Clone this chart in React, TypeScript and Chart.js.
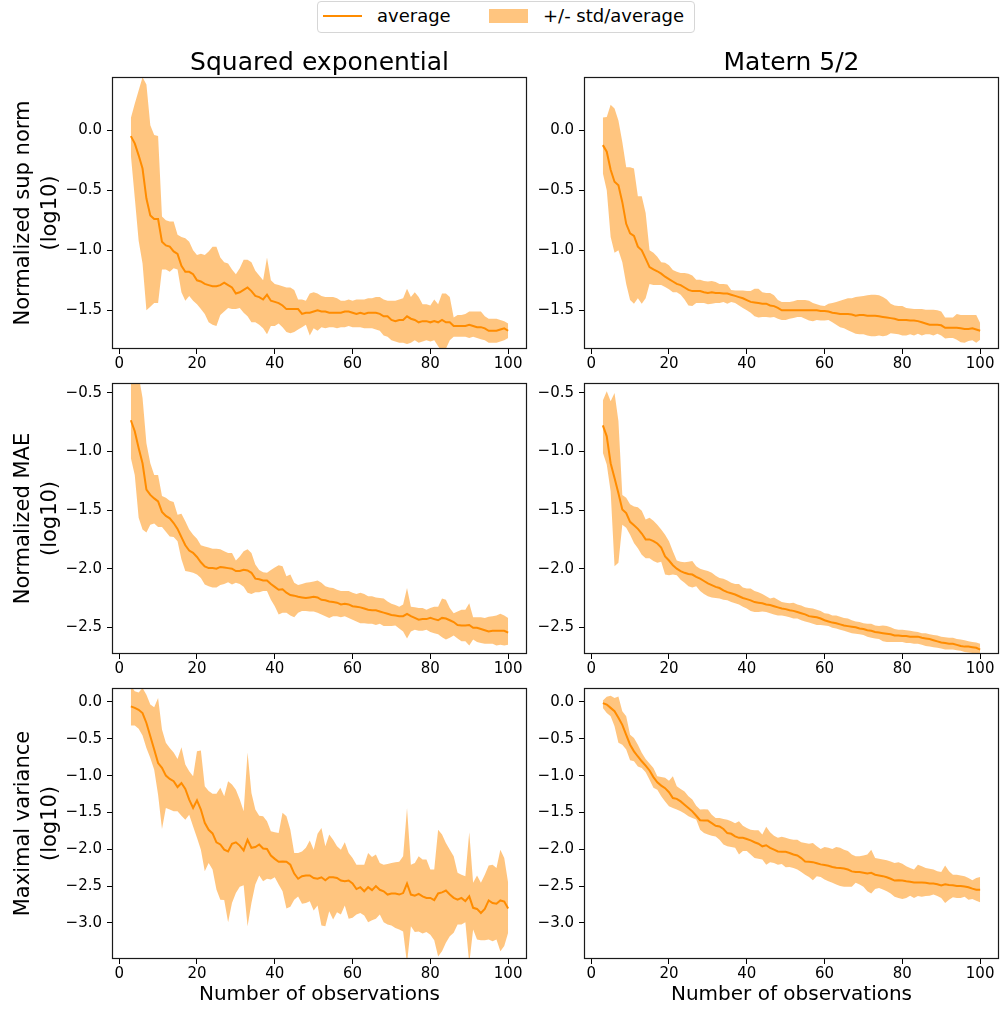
import React, { useEffect, useRef } from 'react';
import { Chart, registerables } from 'chart.js';

Chart.register(...registerables);

const FONT = "'DejaVu Sans', 'Liberation Sans', sans-serif";
const LINE_COLOR = '#ff8c00';
const BAND_COLOR = 'rgba(255, 140, 0, 0.5)';
const TEXT_COLOR = '#000000';

Chart.defaults.font.family = FONT;
Chart.defaults.color = TEXT_COLOR;

// ---- labels -------------------------------------------------------------
const KERNELS = ['Squared exponential', 'Matern 5/2'];
const METRICS = [
  ['Normalized sup norm', '(log10)'],
  ['Normalized MAE', '(log10)'],
  ['Maximal variance', '(log10)'],
];
const X_TITLE = 'Number of observations';
const LINE_LABEL = 'average';
const BAND_LABEL = '+/- std/average';

// ---- axes ---------------------------------------------------------------
const X_TICKS = [0, 20, 40, 60, 80, 100];
const X_LIMITS = [-1.85, 104.85];
const SUP_TICKS = [0, -0.5, -1, -1.5];
const MAE_TICKS = [-0.5, -1, -1.5, -2, -2.5];
const VAR_TICKS = [0, -0.5, -1, -1.5, -2, -2.5, -3];
const SUP_LIMITS = [-1.822, 0.442];
const MAE_LIMITS = [-2.728, -0.415];
const VAR_LIMITS = [-3.49, 0.19];

// ---- data: number of observations ---------------------------------------
const OBS = [
  3, 4, 5, 6, 7, 8, 9, 10, 11, 12,
  13, 14, 15, 16, 17, 18, 19, 20, 21, 22,
  23, 24, 25, 26, 27, 28, 29, 30, 31, 32,
  33, 34, 35, 36, 37, 38, 39, 40, 41, 42,
  43, 44, 45, 46, 47, 48, 49, 50, 51, 52,
  53, 54, 55, 56, 57, 58, 59, 60, 61, 62,
  63, 64, 65, 66, 67, 68, 69, 70, 71, 72,
  73, 74, 75, 76, 77, 78, 79, 80, 81, 82,
  83, 84, 85, 86, 87, 88, 89, 90, 91, 92,
  93, 94, 95, 96, 97, 98, 99, 100,
];

// ---- Squared exponential: normalized sup norm ---------------------------
const SE_SUP_MEAN = [
  -0.05, -0.11, -0.21, -0.32, -0.57, -0.71, -0.74, -0.74, -0.93, -0.96,
  -0.97, -1.01, -1.03, -1.13, -1.18, -1.18, -1.2, -1.25, -1.26, -1.28,
  -1.29, -1.3, -1.3, -1.29, -1.27, -1.29, -1.31, -1.36, -1.35, -1.33,
  -1.31, -1.34, -1.38, -1.39, -1.41, -1.37, -1.42, -1.43, -1.44, -1.46,
  -1.49, -1.49, -1.49, -1.49, -1.53, -1.52, -1.52, -1.51, -1.5, -1.51,
  -1.51, -1.52, -1.52, -1.52, -1.52, -1.51, -1.51, -1.52, -1.53, -1.52,
  -1.53, -1.52, -1.52, -1.52, -1.53, -1.55, -1.55, -1.58, -1.59, -1.58,
  -1.58, -1.55, -1.57, -1.58, -1.6, -1.59, -1.59, -1.6, -1.59, -1.6,
  -1.58, -1.6, -1.6, -1.63, -1.63, -1.63, -1.63, -1.62, -1.63, -1.64,
  -1.64, -1.65, -1.67, -1.67, -1.67, -1.66, -1.65, -1.67,
];
const SE_SUP_HI = [
  0.1, 0.22, 0.33, 0.44, 0.38, 0.04, -0.04, -0.05, -0.72, -0.75,
  -0.76, -0.76, -0.87, -0.89, -0.9, -0.93, -1.0, -1.04, -1.03, -1.04,
  -1.01, -0.97, -0.97, -1.06, -1.1, -1.11, -1.16, -1.2, -1.15, -1.08,
  -1.08, -1.1, -1.17, -1.21, -1.25, -1.06, -1.25, -1.28, -1.29, -1.3,
  -1.31, -1.31, -1.33, -1.41, -1.41, -1.42, -1.36, -1.35, -1.36, -1.38,
  -1.39, -1.39, -1.39, -1.4, -1.42, -1.42, -1.41, -1.42, -1.41, -1.41,
  -1.41, -1.4, -1.4, -1.39, -1.39, -1.41, -1.42, -1.42, -1.42, -1.41,
  -1.4, -1.32, -1.39, -1.35, -1.39, -1.45, -1.45, -1.46, -1.41, -1.45,
  -1.36, -1.36, -1.39, -1.56, -1.54, -1.54, -1.53, -1.51, -1.51, -1.51,
  -1.51, -1.55, -1.57, -1.57, -1.57, -1.58, -1.59, -1.61,
];
const SE_SUP_LO = [
  -0.21, -0.56, -0.92, -1.11, -1.5, -1.47, -1.44, -1.44, -1.16, -1.16,
  -1.18, -1.15, -1.16, -1.35, -1.42, -1.38, -1.42, -1.45, -1.49, -1.53,
  -1.6, -1.62, -1.63, -1.54, -1.51, -1.48, -1.49, -1.49, -1.48, -1.52,
  -1.55, -1.6, -1.6, -1.62, -1.65, -1.7, -1.63, -1.63, -1.61, -1.64,
  -1.68, -1.69, -1.68, -1.66, -1.64, -1.62, -1.71, -1.65, -1.67, -1.64,
  -1.65, -1.64, -1.64, -1.65, -1.64, -1.64, -1.63, -1.64, -1.64, -1.64,
  -1.65, -1.65, -1.65, -1.66, -1.67, -1.71, -1.72, -1.75, -1.76, -1.77,
  -1.77, -1.78, -1.77, -1.75, -1.77, -1.76, -1.75, -1.76, -1.75, -1.8,
  -1.84, -1.82, -1.75, -1.72, -1.72, -1.72, -1.72, -1.73, -1.72, -1.73,
  -1.74, -1.75, -1.77, -1.77, -1.77, -1.76, -1.75, -1.73,
];

// ---- Matern 5/2: normalized sup norm ------------------------------------
const M52_SUP_MEAN = [
  -0.125, -0.18, -0.33, -0.43, -0.46, -0.6, -0.78, -0.86, -0.88, -0.97,
  -1.0, -1.07, -1.14, -1.16, -1.175, -1.195, -1.22, -1.24, -1.26, -1.28,
  -1.29, -1.31, -1.33, -1.34, -1.34, -1.34, -1.35, -1.355, -1.35, -1.355,
  -1.355, -1.36, -1.36, -1.37, -1.38, -1.39, -1.4, -1.415, -1.43, -1.435,
  -1.44, -1.445, -1.445, -1.46, -1.465, -1.48, -1.5, -1.5, -1.5, -1.5,
  -1.5, -1.5, -1.5, -1.5, -1.5, -1.5, -1.505, -1.505, -1.51, -1.52,
  -1.525, -1.53, -1.53, -1.53, -1.535, -1.545, -1.54, -1.54, -1.545, -1.545,
  -1.545, -1.55, -1.555, -1.56, -1.565, -1.57, -1.58, -1.58, -1.58, -1.585,
  -1.585, -1.59, -1.6, -1.61, -1.62, -1.62, -1.62, -1.625, -1.645, -1.645,
  -1.645, -1.645, -1.65, -1.655, -1.655, -1.65, -1.66, -1.67,
];
const M52_SUP_HI = [
  0.105, 0.11, 0.21, 0.18, 0.08, -0.1, -0.31, -0.31, -0.32, -0.55,
  -0.55, -0.69, -1.0, -1.02, -1.055, -1.1, -1.105, -1.125, -1.165, -1.18,
  -1.19, -1.19, -1.195, -1.21, -1.245, -1.245, -1.255, -1.26, -1.255, -1.265,
  -1.28, -1.28, -1.285, -1.33, -1.335, -1.335, -1.335, -1.34, -1.34, -1.32,
  -1.32, -1.35, -1.355, -1.355, -1.375, -1.415, -1.43, -1.43, -1.43, -1.425,
  -1.415, -1.415, -1.415, -1.42, -1.44, -1.45, -1.46, -1.465, -1.445, -1.44,
  -1.43, -1.42, -1.41, -1.4, -1.4, -1.39, -1.385, -1.38, -1.375, -1.37,
  -1.37, -1.375, -1.39, -1.41, -1.445, -1.46, -1.465, -1.465, -1.48, -1.485,
  -1.49, -1.49, -1.49, -1.495, -1.495, -1.495, -1.5, -1.51, -1.56, -1.56,
  -1.56, -1.53, -1.54, -1.54, -1.54, -1.54, -1.54, -1.605,
];
const M52_SUP_LO = [
  -0.36, -0.5, -0.89, -1.02, -1.0, -1.1, -1.28, -1.415, -1.445, -1.4,
  -1.445, -1.4, -1.28, -1.29, -1.29, -1.29, -1.305, -1.325, -1.35, -1.35,
  -1.37, -1.41, -1.46, -1.465, -1.44, -1.44, -1.44, -1.45, -1.445, -1.44,
  -1.44, -1.43, -1.445, -1.43, -1.44, -1.46, -1.48, -1.5, -1.52, -1.55,
  -1.56, -1.555, -1.555, -1.56, -1.555, -1.57, -1.58, -1.58, -1.57, -1.565,
  -1.555, -1.555, -1.57, -1.585, -1.59, -1.58, -1.585, -1.585, -1.58, -1.6,
  -1.62, -1.64, -1.65, -1.665, -1.68, -1.695, -1.7, -1.7, -1.71, -1.715,
  -1.715, -1.71, -1.715, -1.71, -1.69, -1.695, -1.7, -1.71, -1.71, -1.7,
  -1.71, -1.695, -1.71, -1.7, -1.7, -1.71, -1.695, -1.71, -1.735, -1.73,
  -1.73, -1.745, -1.765, -1.77, -1.755, -1.75, -1.77, -1.745,
];

// ---- Squared exponential: normalized MAE --------------------------------
const SE_MAE_MEAN = [
  -0.733, -0.827, -0.97, -1.1, -1.325, -1.37, -1.4, -1.425, -1.515, -1.55,
  -1.57, -1.61, -1.66, -1.73, -1.8, -1.845, -1.865, -1.9, -1.945, -1.98,
  -1.995, -1.995, -2.0, -1.985, -1.99, -1.995, -2.0, -2.02, -2.02, -2.01,
  -2.015, -2.035, -2.085, -2.09, -2.1, -2.1, -2.13, -2.155, -2.18, -2.175,
  -2.205, -2.225, -2.23, -2.24, -2.245, -2.25, -2.245, -2.24, -2.245, -2.265,
  -2.27, -2.28, -2.285, -2.29, -2.305, -2.3, -2.305, -2.32, -2.325, -2.33,
  -2.34, -2.35, -2.355, -2.355, -2.365, -2.375, -2.385, -2.395, -2.4, -2.405,
  -2.405, -2.385, -2.405, -2.42, -2.435, -2.43, -2.43, -2.42, -2.43, -2.44,
  -2.42, -2.425, -2.44, -2.455, -2.48, -2.485, -2.485, -2.48, -2.505, -2.505,
  -2.515, -2.525, -2.535, -2.53, -2.53, -2.53, -2.53, -2.545,
];
const SE_MAE_HI = [
  -0.3, -0.3, -0.35, -0.54, -0.93, -1.1, -1.2, -1.2, -1.38, -1.395,
  -1.42, -1.43, -1.54, -1.53, -1.595, -1.665, -1.71, -1.745, -1.8, -1.81,
  -1.82, -1.83, -1.83, -1.835, -1.85, -1.865, -1.865, -1.93, -1.895, -1.85,
  -1.835, -1.865, -1.965, -2.01, -2.03, -2.035, -2.01, -1.99, -1.97, -1.98,
  -2.065, -2.05, -2.12, -2.14, -2.13, -2.12, -2.115, -2.11, -2.1, -2.12,
  -2.15, -2.16, -2.165, -2.18, -2.19, -2.19, -2.19, -2.205, -2.215, -2.205,
  -2.215, -2.235, -2.235, -2.245, -2.25, -2.255, -2.28, -2.3, -2.31, -2.325,
  -2.305, -2.165, -2.325, -2.33, -2.335, -2.335, -2.35, -2.335, -2.325, -2.325,
  -2.255, -2.265, -2.335, -2.38, -2.365, -2.35, -2.35, -2.295, -2.415, -2.415,
  -2.415, -2.42, -2.41, -2.405, -2.4, -2.385, -2.4, -2.42,
];
const SE_MAE_LO = [
  -1.055, -1.2, -1.565, -1.665, -1.69, -1.625, -1.615, -1.645, -1.645, -1.685,
  -1.725, -1.73, -1.765, -1.92, -2.02, -2.025, -2.035, -2.05, -2.08, -2.135,
  -2.15, -2.16, -2.16, -2.14, -2.13, -2.115, -2.135, -2.12, -2.13, -2.155,
  -2.205, -2.215, -2.2, -2.2, -2.19, -2.19, -2.265, -2.32, -2.39, -2.375,
  -2.375, -2.4, -2.415, -2.375, -2.36, -2.36, -2.365, -2.365, -2.375, -2.39,
  -2.405, -2.42, -2.405, -2.405, -2.415, -2.405, -2.42, -2.435, -2.45, -2.465,
  -2.465, -2.47, -2.47, -2.48, -2.47, -2.49, -2.49, -2.49, -2.485, -2.51,
  -2.535, -2.595, -2.535, -2.52, -2.53, -2.53, -2.52, -2.54, -2.55, -2.56,
  -2.585, -2.605, -2.59, -2.57, -2.595, -2.62, -2.62, -2.655, -2.605, -2.625,
  -2.635, -2.64, -2.64, -2.64, -2.655, -2.65, -2.655, -2.65,
];

// ---- Matern 5/2: normalized MAE -----------------------------------------
const M52_MAE_MEAN = [
  -0.776, -0.87, -1.1, -1.225, -1.355, -1.495, -1.525, -1.6, -1.63, -1.66,
  -1.7, -1.75, -1.75, -1.765, -1.785, -1.82, -1.895, -1.93, -1.97, -2.0,
  -2.02, -2.035, -2.045, -2.05, -2.07, -2.085, -2.105, -2.125, -2.14, -2.155,
  -2.165, -2.185, -2.2, -2.21, -2.22, -2.235, -2.25, -2.26, -2.27, -2.285,
  -2.29, -2.295, -2.305, -2.31, -2.32, -2.33, -2.34, -2.345, -2.355, -2.36,
  -2.37, -2.38, -2.39, -2.405, -2.41, -2.415, -2.425, -2.44, -2.45, -2.46,
  -2.465, -2.475, -2.485, -2.49, -2.495, -2.5, -2.51, -2.515, -2.525, -2.53,
  -2.54, -2.545, -2.55, -2.555, -2.56, -2.57, -2.57, -2.575, -2.575, -2.58,
  -2.58, -2.58, -2.59, -2.595, -2.6, -2.61, -2.62, -2.63, -2.635, -2.64,
  -2.64, -2.65, -2.66, -2.665, -2.665, -2.67, -2.675, -2.69,
];
const M52_MAE_HI = [
  -0.565, -0.485, -0.57, -0.5, -0.74, -1.37, -1.395, -1.45, -1.47, -1.475,
  -1.505, -1.58, -1.565, -1.59, -1.625, -1.665, -1.71, -1.765, -1.85, -1.93,
  -1.94, -1.945, -1.94, -1.935, -1.98, -2.0, -2.01, -2.02, -2.035, -2.06,
  -2.08, -2.085, -2.1, -2.12, -2.13, -2.13, -2.16, -2.17, -2.17, -2.19,
  -2.2, -2.215, -2.235, -2.255, -2.245, -2.265, -2.285, -2.29, -2.295, -2.29,
  -2.305, -2.315, -2.33, -2.335, -2.34, -2.35, -2.36, -2.38, -2.385, -2.4,
  -2.4, -2.41, -2.42, -2.425, -2.44, -2.45, -2.455, -2.465, -2.47, -2.47,
  -2.485, -2.49, -2.485, -2.49, -2.5, -2.515, -2.52, -2.52, -2.525, -2.53,
  -2.535, -2.54, -2.55, -2.55, -2.56, -2.565, -2.57, -2.58, -2.585, -2.59,
  -2.59, -2.6, -2.605, -2.61, -2.62, -2.625, -2.63, -2.64,
];
const M52_MAE_LO = [
  -1.01, -1.11, -1.34, -1.98, -1.95, -1.625, -1.65, -1.71, -1.78, -1.825,
  -1.88, -1.91, -1.91, -1.935, -1.95, -1.94, -2.05, -2.055, -2.05, -2.055,
  -2.095, -2.12, -2.15, -2.16, -2.15, -2.19, -2.215, -2.235, -2.245, -2.25,
  -2.255, -2.265, -2.27, -2.285, -2.295, -2.305, -2.325, -2.34, -2.36, -2.37,
  -2.37, -2.365, -2.37, -2.38, -2.39, -2.4, -2.4, -2.405, -2.415, -2.425,
  -2.425, -2.44, -2.45, -2.46, -2.47, -2.48, -2.48, -2.485, -2.49, -2.505,
  -2.51, -2.52, -2.53, -2.54, -2.55, -2.555, -2.56, -2.565, -2.58, -2.59,
  -2.595, -2.6, -2.62, -2.625, -2.625, -2.625, -2.625, -2.625, -2.635, -2.635,
  -2.64, -2.64, -2.65, -2.66, -2.665, -2.67, -2.675, -2.68, -2.69, -2.69,
  -2.69, -2.695, -2.7, -2.71, -2.715, -2.72, -2.725, -2.73,
];

// ---- Squared exponential: maximal variance ------------------------------
const SE_VAR_MEAN = [
  -0.06, -0.08, -0.105, -0.15, -0.285, -0.465, -0.645, -0.83, -0.895, -1.0,
  -1.045, -1.075, -1.155, -1.1, -1.18, -1.325, -1.44, -1.335, -1.46, -1.64,
  -1.735, -1.785, -1.905, -1.935, -2.005, -2.03, -1.925, -1.905, -1.95, -2.015,
  -1.87, -1.98, -1.97, -1.935, -1.99, -1.995, -2.085, -2.13, -2.17, -2.165,
  -2.17, -2.21, -2.33, -2.4, -2.365, -2.355, -2.355, -2.39, -2.4, -2.38,
  -2.42, -2.38, -2.38, -2.39, -2.425, -2.435, -2.425, -2.465, -2.54, -2.515,
  -2.57, -2.515, -2.555, -2.5, -2.55, -2.57, -2.615, -2.6, -2.6, -2.615,
  -2.595, -2.465, -2.615, -2.63, -2.605, -2.64, -2.66, -2.66, -2.69, -2.6,
  -2.585, -2.56, -2.615, -2.66, -2.685, -2.66, -2.705, -2.64, -2.795, -2.81,
  -2.865, -2.81, -2.695, -2.73, -2.74, -2.695, -2.71, -2.805,
];
const SE_VAR_HI = [
  0.22, 0.145, 0.13, 0.19, 0.1, -0.035, -0.07, 0.055, -0.375, -0.555,
  -0.625, -0.685, -0.775, -0.615, -0.85, -0.94, -1.01, -0.67, -0.66, -1.145,
  -1.21, -1.245, -1.245, -1.165, -1.28, -1.075, -1.12, -1.19, -1.325, -1.485,
  -0.685, -1.235, -1.46, -1.545, -1.55, -1.62, -1.755, -1.77, -1.78, -1.505,
  -1.55, -1.735, -2.05, -2.05, -2.03, -1.98, -1.88, -2.005, -1.79, -1.71,
  -1.96, -1.8, -1.87, -1.96, -2.005, -1.905, -2.05, -2.12, -2.21, -2.21,
  -2.21, -2.05, -2.105, -2.07, -2.185, -2.21, -2.2, -2.185, -2.175, -2.17,
  -2.095, -1.44, -2.21, -2.185, -2.095, -2.14, -2.14, -2.275, -2.275, -1.735,
  -1.8, -1.915, -2.005, -2.095, -2.32, -2.345, -2.365, -1.77, -2.455, -2.355,
  -2.455, -2.345, -2.22, -2.21, -2.255, -2.005, -2.12, -2.455,
];
const SE_VAR_LO = [
  -0.32, -0.32, -0.365, -0.455, -0.625, -0.76, -0.92, -1.26, -1.725, -1.44,
  -1.46, -1.485, -1.485, -1.545, -1.6, -1.53, -1.69, -1.845, -2.005, -2.3,
  -2.185, -2.275, -2.545, -2.685, -2.69, -2.99, -2.73, -2.595, -2.51, -2.49,
  -3.045, -2.73, -2.48, -2.355, -2.435, -2.4, -2.41, -2.38, -2.48, -2.57,
  -2.805, -2.78, -2.685, -2.64, -2.74, -2.73, -2.705, -2.83, -2.765, -3.035,
  -3.045, -2.84, -2.955, -2.855, -2.885, -2.765, -2.945, -2.93, -2.885, -2.865,
  -2.9, -2.99, -2.965, -2.945, -2.885, -2.99, -3.02, -3.035, -3.07, -3.09,
  -3.115, -3.55, -3.045, -3.125, -3.115, -3.145, -3.125, -3.16, -3.235, -3.455,
  -3.385, -3.27, -3.18, -3.135, -3.02, -3.02, -2.99, -3.55, -3.09, -3.225,
  -3.235, -3.235, -3.225, -3.25, -3.225, -3.385, -3.315, -3.135,
];

// ---- Matern 5/2: maximal variance ---------------------------------------
const M52_VAR_MEAN = [
  -0.015, -0.035, -0.08, -0.125, -0.215, -0.31, -0.445, -0.58, -0.67, -0.74,
  -0.805, -0.865, -0.93, -1.02, -1.09, -1.135, -1.17, -1.225, -1.305, -1.315,
  -1.35, -1.395, -1.44, -1.485, -1.545, -1.605, -1.61, -1.61, -1.645, -1.68,
  -1.69, -1.725, -1.78, -1.79, -1.825, -1.845, -1.845, -1.86, -1.88, -1.905,
  -1.925, -1.96, -1.945, -1.98, -2.005, -2.03, -2.035, -2.035, -2.05, -2.07,
  -2.085, -2.12, -2.165, -2.17, -2.175, -2.19, -2.205, -2.215, -2.225, -2.24,
  -2.25, -2.255, -2.26, -2.275, -2.3, -2.31, -2.31, -2.32, -2.33, -2.32,
  -2.345, -2.355, -2.365, -2.38, -2.4, -2.425, -2.42, -2.425, -2.435, -2.44,
  -2.45, -2.45, -2.45, -2.455, -2.465, -2.465, -2.475, -2.49, -2.475, -2.485,
  -2.49, -2.5, -2.5, -2.505, -2.515, -2.535, -2.55, -2.55,
];
const M52_VAR_HI = [
  0.02, 0.07, 0.085, 0.055, 0.075, -0.125, -0.195, -0.445, -0.49, -0.58,
  -0.69, -0.775, -0.835, -0.895, -1.01, -1.02, -1.03, -1.07, -1.01, -1.145,
  -1.18, -1.215, -1.28, -1.325, -1.41, -1.46, -1.455, -1.46, -1.53, -1.575,
  -1.575, -1.59, -1.6, -1.62, -1.645, -1.62, -1.68, -1.71, -1.735, -1.74,
  -1.74, -1.8, -1.695, -1.77, -1.815, -1.845, -1.83, -1.845, -1.86, -1.87,
  -1.87, -1.905, -1.915, -1.925, -1.915, -1.96, -1.995, -1.97, -1.98, -1.995,
  -1.97, -1.98, -2.005, -2.025, -2.07, -2.095, -2.095, -2.085, -2.07, -2.005,
  -2.12, -2.13, -2.14, -2.15, -2.165, -2.185, -2.175, -2.195, -2.23, -2.255,
  -2.275, -2.21, -2.23, -2.255, -2.265, -2.275, -2.3, -2.31, -2.22, -2.3,
  -2.345, -2.345, -2.355, -2.365, -2.39, -2.42, -2.39, -2.375,
];
const M52_VAR_LO = [
  -0.08, -0.15, -0.195, -0.33, -0.555, -0.58, -0.645, -0.79, -0.805, -0.875,
  -0.895, -0.955, -1.055, -1.165, -1.19, -1.28, -1.35, -1.415, -1.44, -1.46,
  -1.485, -1.515, -1.55, -1.575, -1.595, -1.735, -1.78, -1.8, -1.815, -1.825,
  -1.87, -1.935, -1.96, -1.97, -1.98, -2.07, -2.025, -2.025, -2.07, -2.12,
  -2.13, -2.14, -2.21, -2.175, -2.185, -2.21, -2.2, -2.245, -2.24, -2.255,
  -2.275, -2.31, -2.345, -2.375, -2.42, -2.365, -2.375, -2.41, -2.435, -2.455,
  -2.48, -2.5, -2.51, -2.51, -2.51, -2.455, -2.48, -2.51, -2.57, -2.6,
  -2.54, -2.525, -2.545, -2.57, -2.6, -2.645, -2.66, -2.675, -2.66, -2.63,
  -2.66, -2.635, -2.645, -2.635, -2.63, -2.615, -2.635, -2.66, -2.73, -2.685,
  -2.65, -2.66, -2.66, -2.645, -2.685, -2.675, -2.7, -2.72,
];

// ---- grid of panels: rows are metrics, columns are kernels --------------
const ROW_TICKS = [SUP_TICKS, MAE_TICKS, VAR_TICKS];
const ROW_LIMITS = [SUP_LIMITS, MAE_LIMITS, VAR_LIMITS];
const PANELS = [
  { row: 0, col: 0, mean: SE_SUP_MEAN, lo: SE_SUP_LO, hi: SE_SUP_HI },
  { row: 0, col: 1, mean: M52_SUP_MEAN, lo: M52_SUP_LO, hi: M52_SUP_HI },
  { row: 1, col: 0, mean: SE_MAE_MEAN, lo: SE_MAE_LO, hi: SE_MAE_HI },
  { row: 1, col: 1, mean: M52_MAE_MEAN, lo: M52_MAE_LO, hi: M52_MAE_HI },
  { row: 2, col: 0, mean: SE_VAR_MEAN, lo: SE_VAR_LO, hi: SE_VAR_HI },
  { row: 2, col: 1, mean: M52_VAR_MEAN, lo: M52_VAR_LO, hi: M52_VAR_HI },
];

// canvas placement (page pixels) and the fixed axis sizes inside each canvas
const COLS = [
  { left: 0, width: 540, axisWidth: 112, padRight: 13 },
  { left: 530, width: 470, axisWidth: 54, padRight: 1 },
];
const ROWS = [
  { top: 36, height: 342, padTop: 15, xHeight: 29 },
  { top: 366, height: 318, padTop: 17, xHeight: 30 },
  { top: 671, height: 341, padTop: 17, xHeight: 53 },
];

const toPoints = (ys: number[]) => OBS.map((x, i) => ({ x, y: ys[i] }));

const fmtY = (value: number | string) => {
  const v = Number(value);
  if (Math.abs(v) < 1e-9) return '0.0';
  return (v < 0 ? '\u2212' : '') + Math.abs(v).toFixed(1);
};

// axes frame drawn on top of the bands, like plot spines
const framePlugin = {
  id: 'axesFrame',
  afterDraw(chart: any) {
    const { ctx, chartArea: a } = chart;
    ctx.save();
    ctx.strokeStyle = '#1a1a1a';
    ctx.lineWidth = 1.2;
    ctx.strokeRect(a.left + 0.5, a.top + 0.5, a.right - a.left - 1, a.bottom - a.top - 1);
    ctx.restore();
  },
};

function Panel({ spec }: { spec: (typeof PANELS)[number] }) {
  const ref = useRef<HTMLCanvasElement | null>(null);
  const R = ROWS[spec.row];
  const C = COLS[spec.col];

  useEffect(() => {
    const canvas = ref.current;
    if (!canvas) return;
    const isTop = spec.row === 0;
    const isBottom = spec.row === ROWS.length - 1;
    const isLeft = spec.col === 0;
    const yTicks = ROW_TICKS[spec.row];
    const yLim = ROW_LIMITS[spec.row];

    const chart = new Chart(canvas, {
      type: 'line',
      data: {
        datasets: [
          {
            label: LINE_LABEL,
            data: toPoints(spec.mean),
            borderColor: LINE_COLOR,
            borderWidth: 2,
            pointRadius: 0,
            fill: false,
          },
          {
            label: BAND_LABEL + ' (lower)',
            data: toPoints(spec.lo),
            borderColor: 'rgba(0,0,0,0)',
            borderWidth: 0,
            pointRadius: 0,
            fill: false,
          },
          {
            label: BAND_LABEL,
            data: toPoints(spec.hi),
            borderColor: 'rgba(0,0,0,0)',
            borderWidth: 0,
            pointRadius: 0,
            backgroundColor: BAND_COLOR,
            fill: '-1',
          },
        ],
      },
      options: {
        responsive: false,
        animation: false,
        devicePixelRatio: 1,
        events: [],
        elements: { line: { tension: 0 } },
        layout: { padding: { left: 0, right: C.padRight, top: R.padTop, bottom: 0 } },
        plugins: {
          legend: { display: false },
          tooltip: { enabled: false },
          title: {
            display: isTop,
            text: KERNELS[spec.col],
            position: 'top',
            fullSize: false,
            color: TEXT_COLOR,
            font: { family: FONT, size: 25, weight: 'normal', lineHeight: 1 },
            padding: { top: 0, bottom: 1 },
          },
        },
        scales: {
          x: {
            type: 'linear',
            min: X_LIMITS[0],
            max: X_LIMITS[1],
            afterBuildTicks: (s: any) => {
              s.ticks = X_TICKS.map((v) => ({ value: v }));
            },
            afterFit: (s: any) => {
              s.height = R.xHeight;
              s.paddingLeft = 0;
              s.paddingRight = 0;
            },
            border: { display: false },
            grid: {
              display: true,
              drawOnChartArea: false,
              drawTicks: true,
              tickLength: 5,
              tickColor: '#000',
              tickWidth: 1,
            },
            ticks: {
              autoSkip: false,
              maxRotation: 0,
              padding: 1,
              color: TEXT_COLOR,
              font: { family: FONT, size: 15 },
              callback: (v: any) => String(v),
            },
            title: {
              display: isBottom,
              text: X_TITLE,
              color: TEXT_COLOR,
              font: { family: FONT, size: 20, lineHeight: 1.2 },
              padding: { top: 0, bottom: 5 },
            },
          },
          y: {
            type: 'linear',
            min: yLim[0],
            max: yLim[1],
            afterBuildTicks: (s: any) => {
              s.ticks = yTicks.map((v) => ({ value: v }));
            },
            afterFit: (s: any) => {
              s.width = C.axisWidth;
              s.paddingTop = 0;
              s.paddingBottom = 0;
            },
            border: { display: false },
            grid: {
              display: true,
              drawOnChartArea: false,
              drawTicks: true,
              tickLength: 5,
              tickColor: '#000',
              tickWidth: 1,
            },
            ticks: {
              autoSkip: false,
              padding: 5,
              color: TEXT_COLOR,
              font: { family: FONT, size: 15 },
              callback: (v: any) => fmtY(v),
            },
            title: {
              display: isLeft,
              text: METRICS[spec.row],
              color: TEXT_COLOR,
              font: { family: FONT, size: 21, lineHeight: 1.24 },
              padding: { top: 11, bottom: 0 },
            },
          },
        },
      } as any,
      plugins: [framePlugin],
    });
    return () => chart.destroy();
  }, []);

  return (
    <canvas
      ref={ref}
      width={C.width}
      height={R.height}
      style={{ position: 'absolute', left: C.left, top: R.top, width: C.width, height: R.height }}
    />
  );
}

function Legend() {
  const text: React.CSSProperties = {
    position: 'absolute',
    top: 0,
    height: 28,
    lineHeight: '28px',
    fontFamily: FONT,
    fontSize: 18,
    color: TEXT_COLOR,
    whiteSpace: 'nowrap',
  };
  return (
    <div
      style={{
        position: 'absolute',
        left: 317,
        top: 1,
        width: 378,
        height: 32,
        boxSizing: 'border-box',
        border: '1px solid #d6d6d6',
        borderRadius: 4,
        background: '#fff',
      }}
    >
      <div style={{ position: 'absolute', left: 5, top: 13, width: 39, height: 2, background: LINE_COLOR }} />
      <span style={{ ...text, left: 59 }}>{LINE_LABEL}</span>
      <div style={{ position: 'absolute', left: 171, top: 7, width: 39, height: 14, background: BAND_COLOR }} />
      <span style={{ ...text, left: 225 }}>{BAND_LABEL}</span>
    </div>
  );
}

export default function App() {
  return (
    <div
      style={{
        position: 'fixed',
        left: 0,
        top: 0,
        width: 1000,
        height: 1012,
        background: '#fff',
        overflow: 'hidden',
      }}
    >
      {PANELS.map((p) => (
        <Panel key={`${p.row}-${p.col}`} spec={p} />
      ))}
      <Legend />
    </div>
  );
}
